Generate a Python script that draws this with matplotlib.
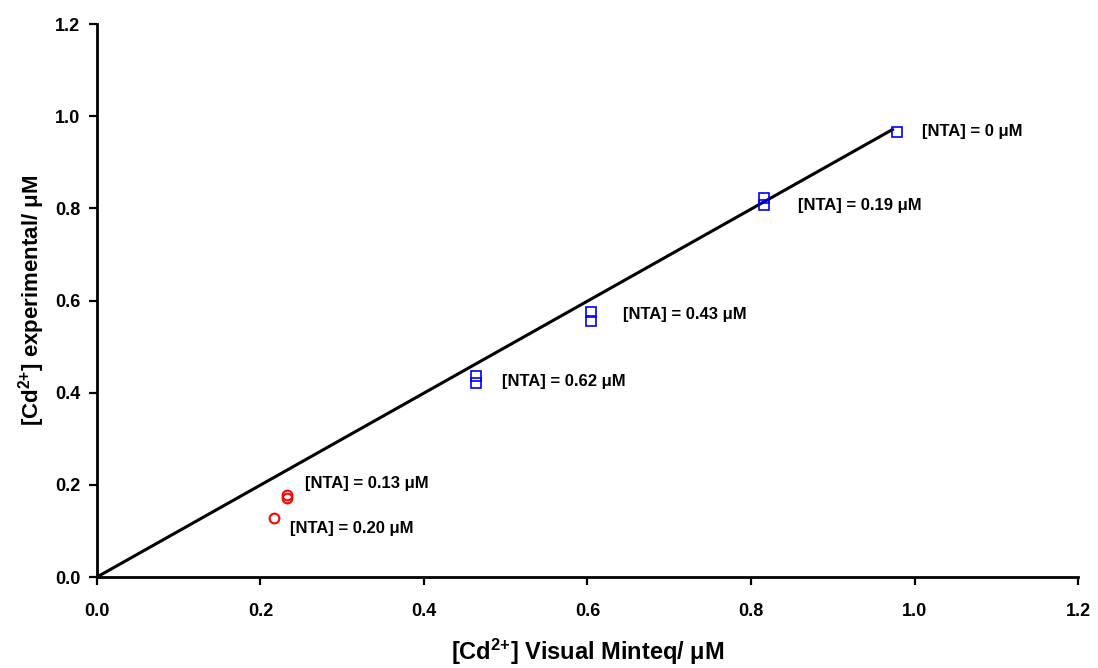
import matplotlib
matplotlib.use("Agg")
import matplotlib.pyplot as plt

plt.rcParams['font.family'] = ['Liberation Sans', 'DejaVu Sans']
plt.rcParams['font.weight'] = 'bold'
plt.rcParams['mathtext.fontset'] = 'custom'
plt.rcParams['mathtext.rm'] = 'Liberation Sans:bold'
plt.rcParams['mathtext.bf'] = 'Liberation Sans:bold'
plt.rcParams['mathtext.default'] = 'bf'

# NTA-containing samples (blue squares)
sq_x = [0.979, 0.816, 0.816, 0.604, 0.604, 0.464, 0.464]
sq_y = [0.966, 0.822, 0.807, 0.575, 0.556, 0.437, 0.420]

# red circles
ci_x = [0.232, 0.232, 0.216]
ci_y = [0.179, 0.172, 0.127]

# 1:1 line
line_x = [0.0, 0.973]
line_y = [0.0, 0.971]

labels = ["[NTA] = 0 μM", "[NTA] = 0.19 μM", "[NTA] = 0.43 μM",
          "[NTA] = 0.62 μM", "[NTA] = 0.13 μM", "[NTA] = 0.20 μM"]
label_x = [1.009, 0.857, 0.643, 0.496, 0.255, 0.236]
label_y = [0.966, 0.807, 0.570, 0.425, 0.202, 0.106]

ticks = [0.0, 0.2, 0.4, 0.6, 0.8, 1.0, 1.2]

fig = plt.figure(figsize=(10.98, 6.68), dpi=100)
ax = fig.add_axes([0.0883, 0.1362, 0.8935, 0.8278])

ax.plot(line_x, line_y, color='black', lw=2.2, zorder=2)
ax.plot(sq_x, sq_y, 's', ms=7, mfc='none', mec='#0000ff', mew=1.2, zorder=3)
ax.plot(ci_x, ci_y, 'o', ms=7, mfc='none', mec='#ff0000', mew=1.5, zorder=3)

for t, x, y in zip(labels, label_x, label_y):
    ax.text(x, y, t, fontsize=12, fontweight='bold', va='center', ha='left')

ax.set_xlim(0, 1.2)
ax.set_ylim(0, 1.2)
ax.set_xticks(ticks)
ax.set_yticks(ticks)
ax.set_xticklabels(["%.1f" % t for t in ticks])
ax.set_yticklabels(["%.1f" % t for t in ticks])
ax.tick_params(direction='out', length=6, width=1.6, labelsize=13, pad=13)
ax.tick_params(axis='y', pad=6)

for s in ['top', 'right']:
    ax.spines[s].set_visible(False)
for s in ['left', 'bottom']:
    ax.spines[s].set_linewidth(2)

ax.set_xlabel(r"[Cd$^{2{+}}$] Visual Minteq/ μM", fontsize=17, fontweight='bold', labelpad=12)
ax.set_ylabel(r"[Cd$^{2{+}}$] experimental/ μM", fontsize=16, fontweight='bold', labelpad=6)

fig.savefig("out.png", dpi=100)
